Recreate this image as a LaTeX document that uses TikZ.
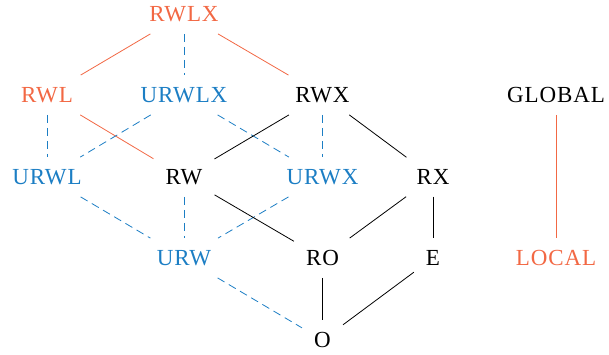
\documentclass[tikz,border=0pt]{standalone}
\usepackage{fontspec}
\setmainfont[LetterSpace=4]{Liberation Serif}
\definecolor{lorange}{RGB}{242,104,68}
\definecolor{lblue}{RGB}{28,126,196}
\tikzset{
  lvl/.style={inner sep=12pt, font=\fontsize{23}{26}\selectfont},
  orline/.style={lorange, line width=0.8pt},
  bldash/.style={lblue, line width=0.8pt, dash pattern=on 8pt off 5pt},
  blkline/.style={black, line width=0.8pt}
}
\begin{document}
\begin{tikzpicture}[x=1pt, y=1pt]
    \useasboundingbox (0,0) rectangle (609,354);
    % top
    \node[lvl, lorange] (rwlx) at (184,340) {RWLX};
    % second row
    \node[lvl, lorange] (rwl) at (47,259) {RWL};
    \node[lvl, lblue] (urwlx) at (184,259) {URWLX};
    \node[lvl] (rwx) at (322.5,259) {RWX};
    \node[lvl] (global) at (556,259) {GLOBAL};
    % third row
    \node[lvl, lblue] (urwl) at (47,177) {URWL};
    \node[lvl] (rw) at (184,177) {RW};
    \node[lvl, lblue] (urwx) at (322.5,177) {URWX};
    \node[lvl] (rx) at (433,177) {RX};
    % fourth row
    \node[lvl, lblue] (urw) at (184,96) {URW};
    \node[lvl] (ro) at (322.5,96) {RO};
    \node[lvl] (e) at (433,96) {E};
    \node[lvl, lorange] (local) at (556,96) {LOCAL};
    % bottom
    \node[lvl] (o) at (322.5,14) {O};

    \draw[orline] (rwlx) -- (rwl);
    \draw[orline] (rwlx) -- (rwx);
    \draw[orline] (rwl) -- (rw);
    \draw[orline] (global) -- (local);

    \draw[bldash] (rwlx) -- (urwlx);
    \draw[bldash] (rwl) -- (urwl);
    \draw[bldash] (urwlx) -- (urwl);
    \draw[bldash] (urwlx) -- (urwx);
    \draw[bldash] (rwx) -- (urwx);
    \draw[bldash] (urwl) -- (urw);
    \draw[bldash] (rw) -- (urw);
    \draw[bldash] (urwx) -- (urw);
    \draw[bldash] (urw) -- (o);

    \draw[blkline] (rwx) -- (rw);
    \draw[blkline] (rwx) -- (rx);
    \draw[blkline] (rw) -- (ro);
    \draw[blkline] (rx) -- (ro);
    \draw[blkline] (rx) -- (e);
    \draw[blkline] (ro) -- (o);
    \draw[blkline] (e) -- (o);
\end{tikzpicture}
\end{document}
